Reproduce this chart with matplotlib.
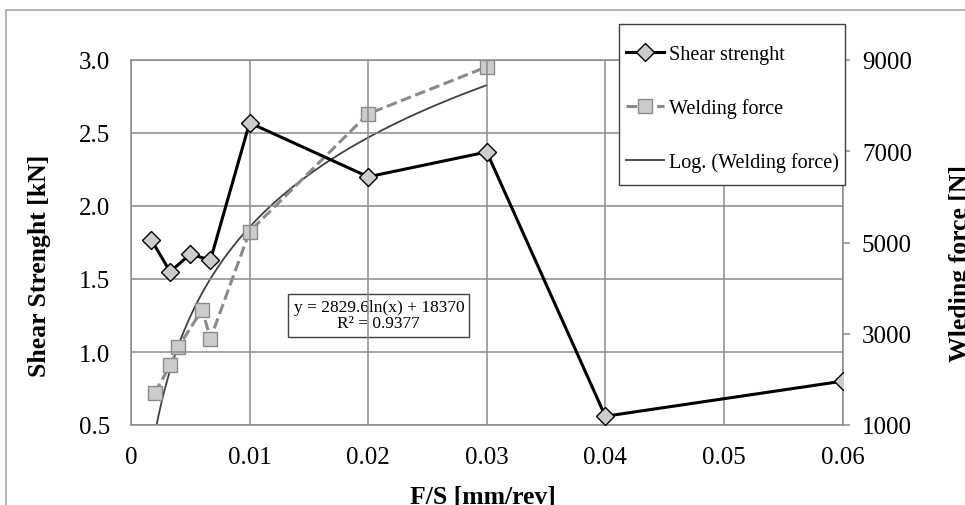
import numpy as np
import matplotlib
matplotlib.use("Agg")
import matplotlib.pyplot as plt
from matplotlib.patches import Rectangle

plt.rcParams['font.family'] = ['Liberation Serif', 'DejaVu Serif']

# shear strength (left axis, kN)
fs_shear = [0.0017, 0.0033, 0.005, 0.0067, 0.01, 0.02, 0.03, 0.04, 0.06]
shear = [1.77, 1.55, 1.67, 1.63, 2.57, 2.20, 2.37, 0.56, 0.80]

# welding force (right axis, N)
fs_force = [0.002, 0.0033, 0.004, 0.006, 0.0067, 0.01, 0.02, 0.03]
force = [1700, 2310, 2710, 3530, 2890, 5240, 7820, 8850]

# log trendline coefficients as printed on the chart
log_a, log_b = 2829.6, 18370
eq_text = "y = 2829.6ln(x) + 18370\nR² = 0.9377"

grid_c = '#8c8c8c'

fig = plt.figure(figsize=(9.65, 5.06), dpi=100)
ax = fig.add_axes([131 / 965, 1 - 426 / 506, 711.5 / 965, 365 / 506])
ax2 = ax.twinx()

# outer frame (chart area border)
fig.patches.append(Rectangle((6 / 965, -0.2), 1.2, 1.2 - 11 / 506,
                             transform=fig.transFigure, fill=False,
                             edgecolor='#a6a6a6', lw=1.2))

ax.set_xlim(0, 0.06)
ax.set_ylim(0.5, 3.0)
ax.set_xticks(np.arange(0, 0.061, 0.01))
ax.set_xticklabels(['0', '0.01', '0.02', '0.03', '0.04', '0.05', '0.06'])
ax.set_yticks(np.arange(0.5, 3.01, 0.5))
ax.set_yticklabels(['%.1f' % v for v in np.arange(0.5, 3.01, 0.5)])
ax.grid(True, color=grid_c, lw=1.1)
ax.set_axisbelow(True)
ax.tick_params(axis='both', length=0, labelsize=18, pad=15)
for s in ax.spines.values():
    s.set_color(grid_c)
    s.set_linewidth(1.1)

ax2.set_ylim(1000, 9000)
ax2.set_yticks(np.arange(1000, 9001, 2000))
ax2.tick_params(axis='y', length=6, width=1.1, color=grid_c, labelsize=18, pad=8)
for s in ax2.spines.values():
    s.set_visible(False)

# log trendline (drawn on the force axis)
xt = np.linspace(0.0020, 0.03, 300)
yt = log_a * np.log(xt) + log_b
l3, = ax2.plot(xt, yt, color='#404040', lw=1.3, label='Log. (Welding force)', zorder=2)

l2, = ax2.plot(fs_force, force, color='#8a8a8a', lw=2.2, ls=(0, (3.5, 1.5)),
               marker='s', ms=10, mfc='#cccccc', mec='#8a8a8a', mew=1,
               label='Welding force', zorder=3)

l1, = ax.plot(fs_shear, shear, color='black', lw=2.2, marker='D', ms=9,
              mfc='#cccccc', mec='black', mew=1, label='Shear strenght', zorder=4)
ax.set_zorder(ax2.get_zorder() + 1)
ax.patch.set_visible(False)
ax2.patch.set_visible(True)

ax2.text(0.0209, 3400, eq_text, ha='center', va='center', fontsize=12.5,
         linespacing=1.0,
         bbox=dict(boxstyle='square,pad=0.3', fc='white', ec='#404040', lw=1))

# legend box
fig.patches.append(Rectangle((619 / 965, 1 - 186 / 506), 226 / 965, 161 / 506,
                             transform=fig.transFigure, fc='white',
                             ec='#404040', lw=1, zorder=4))
leg = fig.legend(handles=[l1, l2, l3], loc='upper left',
                 bbox_to_anchor=(626 / 965, 1 - 46 / 506),
                 fontsize=14.5, frameon=False,
                 handlelength=1.9, handletextpad=0.25, labelspacing=1.7,
                 borderpad=0, borderaxespad=0, numpoints=1)
leg.set_zorder(5)

fig.text(40 / 965, 1 - 266 / 506, 'Shear Strenght [kN]', rotation=90,
         ha='center', va='center', fontsize=18.5, fontweight='bold')
fig.text(960 / 965, 1 - 263 / 506, 'Wleding force [N]', rotation=90,
         ha='center', va='center', fontsize=18.5, fontweight='bold')
fig.text(483 / 965, 1 - 504 / 506, 'F/S [mm/rev]', ha='center', va='baseline',
         fontsize=18.5, fontweight='bold')

fig.savefig('out.png', dpi=100)
